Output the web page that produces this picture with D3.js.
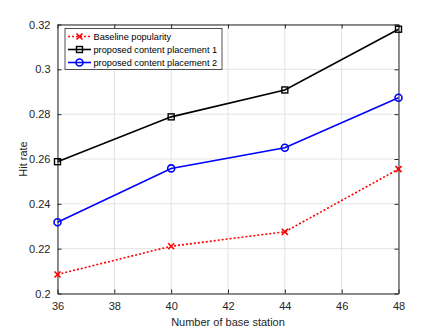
<!DOCTYPE html>
<html>
<head>
<meta charset="utf-8">
<script src="https://cdn.jsdelivr.net/npm/d3@7"></script>
<style>
  body { margin: 0; background: #fff; }
  text { font-family: "Liberation Sans", Arial, sans-serif; }
</style>
</head>
<body>
<div id="chart"></div>
<script>
// data
var stations = [36, 40, 44, 48];
var baseline = [0.2085, 0.2211, 0.2275, 0.2555];
var placement1 = [0.2588, 0.2788, 0.2908, 0.3179];
var placement2 = [0.2318, 0.2558, 0.2650, 0.2873];
var seriesNames = ["Baseline popularity", "proposed content placement 1", "proposed content placement 2"];
var xTicks = [36, 38, 40, 42, 44, 46, 48];
var yTicks = [0.2, 0.22, 0.24, 0.26, 0.28, 0.3, 0.32];

var svgWidth = 440;
var svgHeight = 330;
var margin = { top: 24.5, right: 41.5, bottom: 36.5, left: 57.5 };
var width = svgWidth - margin.left - margin.right;
var height = svgHeight - margin.top - margin.bottom;

var svg = d3.select("#chart").append("svg")
  .attr("width", svgWidth)
  .attr("height", svgHeight);

var chartGroup = svg.append("g")
  .attr("transform", `translate(${margin.left}, ${margin.top})`);

var xScale = d3.scaleLinear().domain([36, 48]).range([0, width]);
var yScale = d3.scaleLinear().domain([0.2, 0.32]).range([height, 0]);

// grid
chartGroup.append("g").selectAll("line").data(xTicks).enter().append("line")
  .attr("x1", d => xScale(d)).attr("x2", d => xScale(d))
  .attr("y1", 0).attr("y2", height)
  .attr("stroke", "#e3e3e3").attr("stroke-width", 1);
chartGroup.append("g").selectAll("line").data(yTicks).enter().append("line")
  .attr("x1", 0).attr("x2", width)
  .attr("y1", d => yScale(d)).attr("y2", d => yScale(d))
  .attr("stroke", "#e3e3e3").attr("stroke-width", 1);

// axes (ticks inside, box on)
var axisColor = "#262626";
var fmtY = d => d3.format("")(+d.toFixed(2));

var xAxis = chartGroup.append("g")
  .attr("transform", `translate(0, ${height})`)
  .call(d3.axisBottom(xScale).tickValues(xTicks).tickSizeInner(-4).tickSizeOuter(0).tickPadding(9));
var yAxis = chartGroup.append("g")
  .call(d3.axisLeft(yScale).tickValues(yTicks).tickFormat(fmtY).tickSizeInner(-4).tickSizeOuter(0).tickPadding(7));
var xTop = chartGroup.append("g")
  .call(d3.axisTop(xScale).tickValues(xTicks).tickSizeInner(-4).tickSizeOuter(0).tickFormat(""));
var yRight = chartGroup.append("g")
  .attr("transform", `translate(${width}, 0)`)
  .call(d3.axisRight(yScale).tickValues(yTicks).tickSizeInner(-4).tickSizeOuter(0).tickFormat(""));

[xAxis, yAxis, xTop, yRight].forEach(function(g) {
  g.select(".domain").attr("stroke", axisColor);
  g.selectAll(".tick line").attr("stroke", axisColor);
  g.selectAll(".tick text").attr("fill", axisColor)
    .style("font-size", "11px").style("font-family", "'Liberation Sans', Arial, sans-serif");
});

// axis labels
svg.append("text")
  .attr("x", margin.left + width / 2)
  .attr("y", 326)
  .attr("text-anchor", "middle")
  .attr("fill", axisColor)
  .style("font-size", "11px")
  .text("Number of base station");

svg.append("text")
  .attr("transform", `translate(27, ${margin.top + height / 2}) rotate(-90)`)
  .attr("text-anchor", "middle")
  .attr("fill", axisColor)
  .style("font-size", "11px")
  .text("Hit rate");

// series
var line = d3.line()
  .x((d, i) => xScale(stations[i]))
  .y(d => yScale(d));

var series = [
  { values: baseline, color: "#ff0000", dash: "2,2", marker: "x" },
  { values: placement1, color: "#000000", dash: null, marker: "square" },
  { values: placement2, color: "#0000ff", dash: null, marker: "circle" }
];

function drawMarker(g, type, x, y, color) {
  if (type === "x") {
    g.append("path")
      .attr("d", `M${x - 3},${y - 3}L${x + 3},${y + 3}M${x - 3},${y + 3}L${x + 3},${y - 3}`)
      .attr("stroke", color).attr("stroke-width", 1.6).attr("fill", "none");
  } else if (type === "square") {
    g.append("rect")
      .attr("x", x - 3).attr("y", y - 3).attr("width", 6).attr("height", 6)
      .attr("stroke", color).attr("stroke-width", 1.4).attr("fill", "none");
  } else {
    g.append("circle")
      .attr("cx", x).attr("cy", y).attr("r", 3.5)
      .attr("stroke", color).attr("stroke-width", 1.6).attr("fill", "none");
  }
}

series.forEach(function(s) {
  chartGroup.append("path")
    .attr("d", line(s.values))
    .attr("fill", "none")
    .attr("stroke", s.color)
    .attr("stroke-width", 1.6)
    .attr("stroke-dasharray", s.dash);
  s.values.forEach(function(v, i) {
    drawMarker(chartGroup, s.marker, xScale(stations[i]), yScale(v), s.color);
  });
});

// legend
var legend = svg.append("g").attr("transform", "translate(65, 28.5)");
legend.append("rect")
  .attr("width", 157).attr("height", 41)
  .attr("fill", "#fff").attr("stroke", "#262626").attr("stroke-width", 0.8);

series.forEach(function(s, i) {
  var ly = 8 + i * 13;
  legend.append("line")
    .attr("x1", 3).attr("x2", 26).attr("y1", ly).attr("y2", ly)
    .attr("stroke", s.color).attr("stroke-width", 1.6)
    .attr("stroke-dasharray", s.dash);
  drawMarker(legend, s.marker, 14.5, ly, s.color);
  legend.append("text")
    .attr("x", 28.5).attr("y", ly + 3.5)
    .attr("fill", "#000")
    .style("font-size", "9.2px")
    .text(seriesNames[i]);
});
</script>
</body>
</html>
